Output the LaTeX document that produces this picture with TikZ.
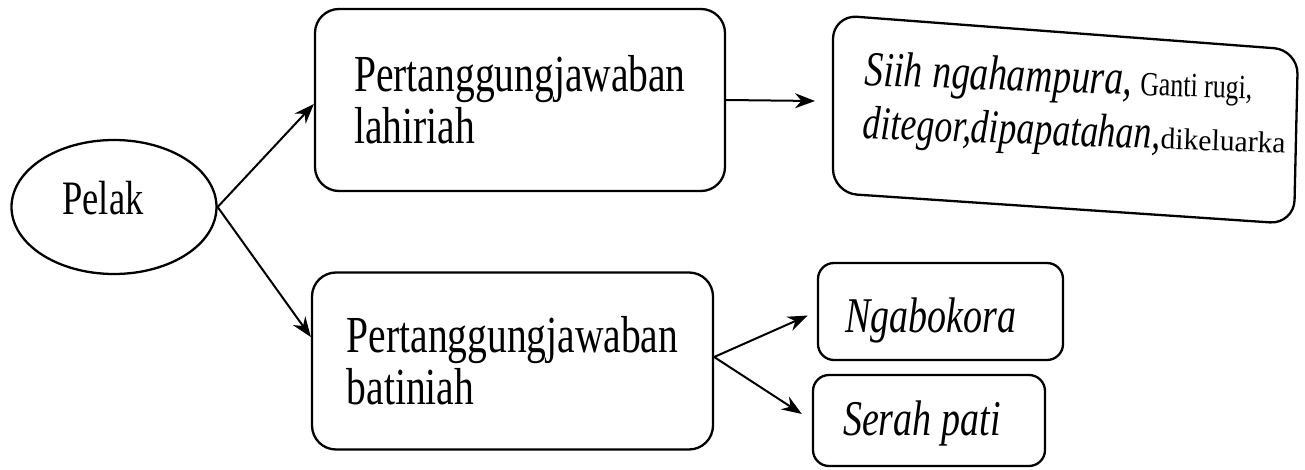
\documentclass[tikz,border=0pt]{standalone}
\usepackage{graphicx}
\usepackage{fontspec}
\setmainfont{Liberation Serif}[FakeStretch=0.76]
\usetikzlibrary{arrows.meta,calc,shapes.geometric}
\begin{document}
\begin{tikzpicture}[x=1pt,y=-1pt,
  line width=2.3pt,
  rbox/.style={draw, rounded corners=24pt, inner sep=0pt, align=left},
  sbox/.style={draw, rounded corners=16pt, inner ysep=0pt, align=left, text depth=0pt,
               font=\fontsize{50}{50}\selectfont\itshape},
  arr/.style={-{Stealth[length=20pt,width=15pt]}, line width=2pt},
  big/.style={font=\fontsize{52}{52}\selectfont}]
\useasboundingbox (0,0) rectangle (1305,470);
\node[draw, ellipse, minimum width=205pt, minimum height=134pt, inner sep=0pt] (pelak) at (114,207) {};
\node[font=\fontsize{48}{48}\selectfont, inner sep=0pt] (pelaktext) at (103,198) {Pelak};
\node[rbox, minimum width=410pt, minimum height=182pt, big] (lahir) at (520,100)
  {Pertanggungjawaban\\lahiriah};
\node[rbox, minimum width=401pt, minimum height=177pt, big] (batin) at (512.5,361)
  {Pertanggungjawaban\\batiniah};
\node[sbox, inner xsep=27pt, text width=191pt, minimum height=97pt, text height=41pt] (ngab) at (940.5,311.5) {Ngabokora};
\node[sbox, inner xsep=30pt, text width=172pt, minimum height=91pt, text height=29pt] (serah) at (929,420.5) {Serah\hspace{10pt}pati};
\draw[rounded corners=24pt] (833,15) -- (1298,50) -- (1294,224) -- (833,193) -- cycle;
\node[anchor=west, align=left, inner sep=0pt, rotate=-2, font=\fontsize{49}{53}\selectfont] (res) at (863,100)
  {\textit{Siih\hspace{10pt}ngahampura,}\hspace{8pt}{\fontsize{34}{53}\selectfont Ganti rugi,}\\
   {\fontsize{47}{53}\selectfont\itshape ditegor,dipapatahan,}{\fontsize{30}{53}\selectfont\scalebox{1.3}[1]{dikeluarka}}};
\coordinate (r3) at (815,101);
\coordinate (bout) at ($(batin.east)+(0,-4)$);
\draw[arr] (pelak.east) -- ($(lahir.west)+(0,4)$);
\draw[arr] (pelak.east) -- ($(batin.west)+(0,-24)$);
\draw[arr] (lahir.east) -- (r3);
\draw[arr, shorten >=10pt] (bout) -- (ngab.west);
\draw[arr, shorten >=12pt] (bout) -- (serah.west);
\end{tikzpicture}
\end{document}
